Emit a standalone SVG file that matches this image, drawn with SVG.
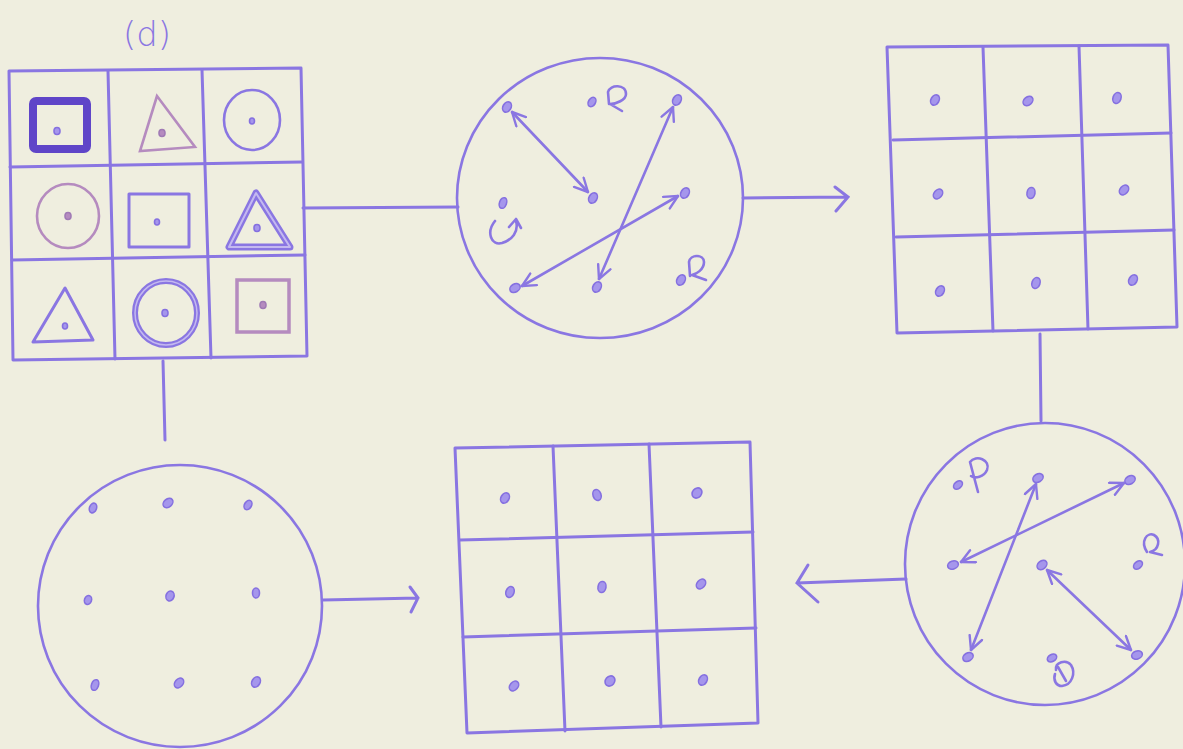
<svg xmlns="http://www.w3.org/2000/svg" width="1183" height="749" viewBox="0 0 1183 749">
<style>
.ln{fill:none;stroke:#8a76e2;stroke-width:3;stroke-linecap:round;stroke-linejoin:round}
.cir{fill:none;stroke:#8a76e2;stroke-width:2.6}
.dot{fill:#a596ec;stroke:#8570e0;stroke-width:1.6}
.arr{fill:none;stroke:#8a76e2;stroke-width:2.6;stroke-linecap:round;marker-start:url(#ah);marker-end:url(#ah)}
.con{fill:none;stroke:#8a76e2;stroke-width:3;stroke-linecap:round}
.curl{fill:none;stroke:#8a76e2;stroke-width:2.6;stroke-linecap:round;stroke-linejoin:round}
.pink{fill:none;stroke:#b58bbf;stroke-width:2.6}
.lbl{font-family:"DejaVu Sans","Liberation Sans",sans-serif;font-size:34px;font-weight:300;fill:#8a76e2}
</style>
<defs>
<marker id="ah" viewBox="0 0 12 12" refX="11" refY="6" markerWidth="16" markerHeight="16" markerUnits="userSpaceOnUse" orient="auto-start-reverse">
<path d="M1,1 L11,6 L1,11" fill="none" stroke="#8a76e2" stroke-width="1.8" stroke-linecap="round" stroke-linejoin="round"/>
</marker>
</defs>
<rect width="1183" height="749" fill="#efeedf"/>

<g id="grid-d">
<text class="lbl" x="147" y="46" text-anchor="middle">(d)</text>
<polygon class="ln" points="9,71 301,68 307,356 13,360"/>
<line class="ln" x1="108" y1="71" x2="115" y2="359"/>
<line class="ln" x1="202" y1="70" x2="211" y2="358"/>
<line class="ln" x1="10" y1="167" x2="302" y2="162"/>
<line class="ln" x1="12" y1="260" x2="305" y2="255"/>
<rect x="33" y="101" width="54" height="48" rx="3" fill="none" stroke="#5f45c8" stroke-width="8"/>
<ellipse class="dot" cx="57" cy="131" rx="3" ry="3.5" fill="#5f45c8"/>
<polygon class="pink" points="157,96 140,151 195,147"/>
<ellipse class="dot" cx="162" cy="133" rx="3" ry="3.5" style="fill:#b58bbf;stroke:#a07ab5"/>
<ellipse class="cir" cx="252" cy="120" rx="28" ry="30"/>
<ellipse class="dot" cx="252" cy="121" rx="2.5" ry="3"/>
<ellipse class="pink" cx="68" cy="216" rx="31" ry="32"/>
<ellipse class="dot" cx="68" cy="216" rx="3" ry="3.5" style="fill:#b58bbf;stroke:#a07ab5"/>
<rect class="ln" x="129" y="194" width="60" height="53"/>
<ellipse class="dot" cx="157" cy="222" rx="2.5" ry="3"/>
<polygon points="256,193 229,247 290,247" fill="none" stroke="#8a76e2" stroke-width="7" stroke-linejoin="round"/>
<polygon points="256,193 229,247 290,247" fill="none" stroke="#c4b9f0" stroke-width="2" stroke-linejoin="round"/>
<ellipse class="dot" cx="257" cy="228" rx="3" ry="3.5"/>
<polygon class="ln" points="65,288 33,342 93,340"/>
<ellipse class="dot" cx="65" cy="326" rx="2.5" ry="3"/>
<ellipse cx="166" cy="313" rx="31" ry="32" fill="none" stroke="#8a76e2" stroke-width="6"/>
<ellipse cx="166" cy="313" rx="31" ry="32" fill="none" stroke="#c4b9f0" stroke-width="1.5"/>
<ellipse class="dot" cx="165" cy="313" rx="3" ry="3.5"/>
<rect x="237" y="280" width="52" height="52" fill="none" stroke="#b58bbf" stroke-width="3.5"/>
<ellipse class="dot" cx="263" cy="305" rx="3" ry="3.5" style="fill:#b58bbf;stroke:#a07ab5"/>
</g>

<g id="circle-top">
<ellipse class="cir" cx="600" cy="198" rx="143" ry="140"/>
<ellipse class="dot" cx="507" cy="107" rx="4" ry="5.5" transform="rotate(30 507 107)"/>
<ellipse class="dot" cx="593" cy="198" rx="4" ry="5.5" transform="rotate(30 593 198)"/>
<ellipse class="dot" cx="592" cy="102" rx="3.5" ry="5" transform="rotate(30 592 102)"/>
<ellipse class="dot" cx="677" cy="100" rx="4" ry="5.5" transform="rotate(30 677 100)"/>
<ellipse class="dot" cx="597" cy="287" rx="4" ry="5.5" transform="rotate(30 597 287)"/>
<ellipse class="dot" cx="685" cy="193" rx="4" ry="5.5" transform="rotate(30 685 193)"/>
<ellipse class="dot" cx="515" cy="288" rx="4" ry="5.5" transform="rotate(60 515 288)"/>
<ellipse class="dot" cx="503" cy="203" rx="3.5" ry="5.5" transform="rotate(20 503 203)"/>
<ellipse class="dot" cx="681" cy="280" rx="4" ry="5.5" transform="rotate(30 681 280)"/>
<line class="arr" x1="512" y1="112" x2="588" y2="192"/>
<line class="arr" x1="673" y1="107" x2="599" y2="279"/>
<line class="arr" x1="678" y1="196" x2="522" y2="286"/>
<path class="curl" d="M609,104 L608,92 C610,84 626,84 626,94 C626,100 616,104 610,104 L622,111"/>
<path class="curl" d="M495,221 C486,232 491,246 502,243 C512,240 519,232 516,221 M509,227 L516,219 L521,228"/>
<path class="curl" d="M690,276 L689,262 C690,254 704,254 704,262 C704,270 696,274 692,275 L706,280"/>
</g>

<g id="grid-tr">
<polygon class="ln" points="887,47 1168,45 1177,327 897,333"/>
<line class="ln" x1="983" y1="47" x2="993" y2="331"/>
<line class="ln" x1="1079" y1="46" x2="1088" y2="329"/>
<line class="ln" x1="893" y1="140" x2="1171" y2="133"/>
<line class="ln" x1="896" y1="237" x2="1174" y2="230"/>
<ellipse class="dot" cx="935" cy="100" rx="4" ry="5.5" transform="rotate(30 935 100)"/>
<ellipse class="dot" cx="1028" cy="101" rx="4" ry="5.5" transform="rotate(50 1028 101)"/>
<ellipse class="dot" cx="1117" cy="98" rx="4" ry="5.5" transform="rotate(20 1117 98)"/>
<ellipse class="dot" cx="938" cy="194" rx="4" ry="5.5" transform="rotate(40 938 194)"/>
<ellipse class="dot" cx="1031" cy="193" rx="4" ry="5.5" transform="rotate(10 1031 193)"/>
<ellipse class="dot" cx="1124" cy="190" rx="4" ry="5.5" transform="rotate(40 1124 190)"/>
<ellipse class="dot" cx="940" cy="291" rx="4" ry="5.5" transform="rotate(30 940 291)"/>
<ellipse class="dot" cx="1036" cy="283" rx="4" ry="5.5" transform="rotate(20 1036 283)"/>
<ellipse class="dot" cx="1133" cy="280" rx="4" ry="5.5" transform="rotate(30 1133 280)"/>
</g>

<g id="circle-br">
<ellipse class="cir" cx="1045" cy="564" rx="140" ry="141"/>
<ellipse class="dot" cx="958" cy="485" rx="3.5" ry="5" transform="rotate(50 958 485)"/>
<ellipse class="dot" cx="1038" cy="478" rx="4" ry="5.5" transform="rotate(60 1038 478)"/>
<ellipse class="dot" cx="1130" cy="480" rx="4" ry="5.5" transform="rotate(60 1130 480)"/>
<ellipse class="dot" cx="953" cy="565" rx="4" ry="5.5" transform="rotate(70 953 565)"/>
<ellipse class="dot" cx="1042" cy="565" rx="4" ry="5.5" transform="rotate(50 1042 565)"/>
<ellipse class="dot" cx="1138" cy="565" rx="3.5" ry="5" transform="rotate(50 1138 565)"/>
<ellipse class="dot" cx="968" cy="657" rx="4" ry="5.5" transform="rotate(60 968 657)"/>
<ellipse class="dot" cx="1052" cy="658" rx="3.5" ry="5" transform="rotate(60 1052 658)"/>
<ellipse class="dot" cx="1137" cy="655" rx="4" ry="5.5" transform="rotate(70 1137 655)"/>
<line class="arr" x1="1036" y1="484" x2="971" y2="650"/>
<line class="arr" x1="1124" y1="483" x2="961" y2="562"/>
<line class="arr" x1="1047" y1="570" x2="1131" y2="650"/>
<path class="curl" d="M978,492 L970,462 C976,454 991,460 987,470 C984,477 975,479 971,476"/>
<path class="curl" d="M1147,552 C1140,541 1147,532 1154,535 C1161,539 1159,550 1150,552 L1162,555"/>
<path class="curl" d="M1056,670 C1055,662 1066,659 1071,665 C1076,673 1072,685 1062,686 C1056,686 1053,680 1055,674 M1058,667 L1066,681"/>
</g>

<g id="grid-bm">
<polygon class="ln" points="455,448 750,442 758,723 467,733"/>
<line class="ln" x1="553" y1="446" x2="565" y2="731"/>
<line class="ln" x1="649" y1="444" x2="661" y2="727"/>
<line class="ln" x1="460" y1="540" x2="753" y2="532"/>
<line class="ln" x1="463" y1="637" x2="756" y2="628"/>
<ellipse class="dot" cx="505" cy="498" rx="4" ry="5.5" transform="rotate(30 505 498)"/>
<ellipse class="dot" cx="597" cy="495" rx="4" ry="5.5" transform="rotate(-20 597 495)"/>
<ellipse class="dot" cx="697" cy="493" rx="4.5" ry="5.5" transform="rotate(40 697 493)"/>
<ellipse class="dot" cx="510" cy="592" rx="4" ry="5.5" transform="rotate(20 510 592)"/>
<ellipse class="dot" cx="602" cy="587" rx="4" ry="5.5" transform="rotate(10 602 587)"/>
<ellipse class="dot" cx="701" cy="584" rx="4" ry="5.5" transform="rotate(40 701 584)"/>
<ellipse class="dot" cx="514" cy="686" rx="4" ry="5.5" transform="rotate(40 514 686)"/>
<ellipse class="dot" cx="610" cy="681" rx="4.5" ry="5.5" transform="rotate(40 610 681)"/>
<ellipse class="dot" cx="703" cy="680" rx="4" ry="5.5" transform="rotate(30 703 680)"/>
</g>

<g id="circle-bl">
<ellipse class="cir" cx="180" cy="606" rx="142" ry="141"/>
<ellipse class="dot" cx="93" cy="508" rx="3.5" ry="5" transform="rotate(20 93 508)"/>
<ellipse class="dot" cx="168" cy="503" rx="4" ry="5.5" transform="rotate(50 168 503)"/>
<ellipse class="dot" cx="248" cy="505" rx="3.5" ry="5" transform="rotate(30 248 505)"/>
<ellipse class="dot" cx="88" cy="600" rx="3.5" ry="4.5" transform="rotate(20 88 600)"/>
<ellipse class="dot" cx="170" cy="596" rx="4" ry="5" transform="rotate(20 170 596)"/>
<ellipse class="dot" cx="256" cy="593" rx="3.5" ry="5"/>
<ellipse class="dot" cx="95" cy="685" rx="3.5" ry="5.5" transform="rotate(20 95 685)"/>
<ellipse class="dot" cx="179" cy="683" rx="4" ry="5.5" transform="rotate(40 179 683)"/>
<ellipse class="dot" cx="256" cy="682" rx="4" ry="5.5" transform="rotate(30 256 682)"/>
</g>

<g id="connectors">
<line class="con" x1="303" y1="208" x2="458" y2="207"/>
<path class="con" d="M743,198 L848,197 M835,187 L848,197 L836,211"/>
<line class="con" x1="1040" y1="334" x2="1041" y2="421"/>
<path class="con" d="M906,579 L797,583 M808,565 L797,583 L818,602"/>
<line class="con" x1="163" y1="361" x2="165" y2="440"/>
<path class="con" d="M323,600 L418,598 M410,587 L418,598 L411,612"/>
</g>
</svg>
